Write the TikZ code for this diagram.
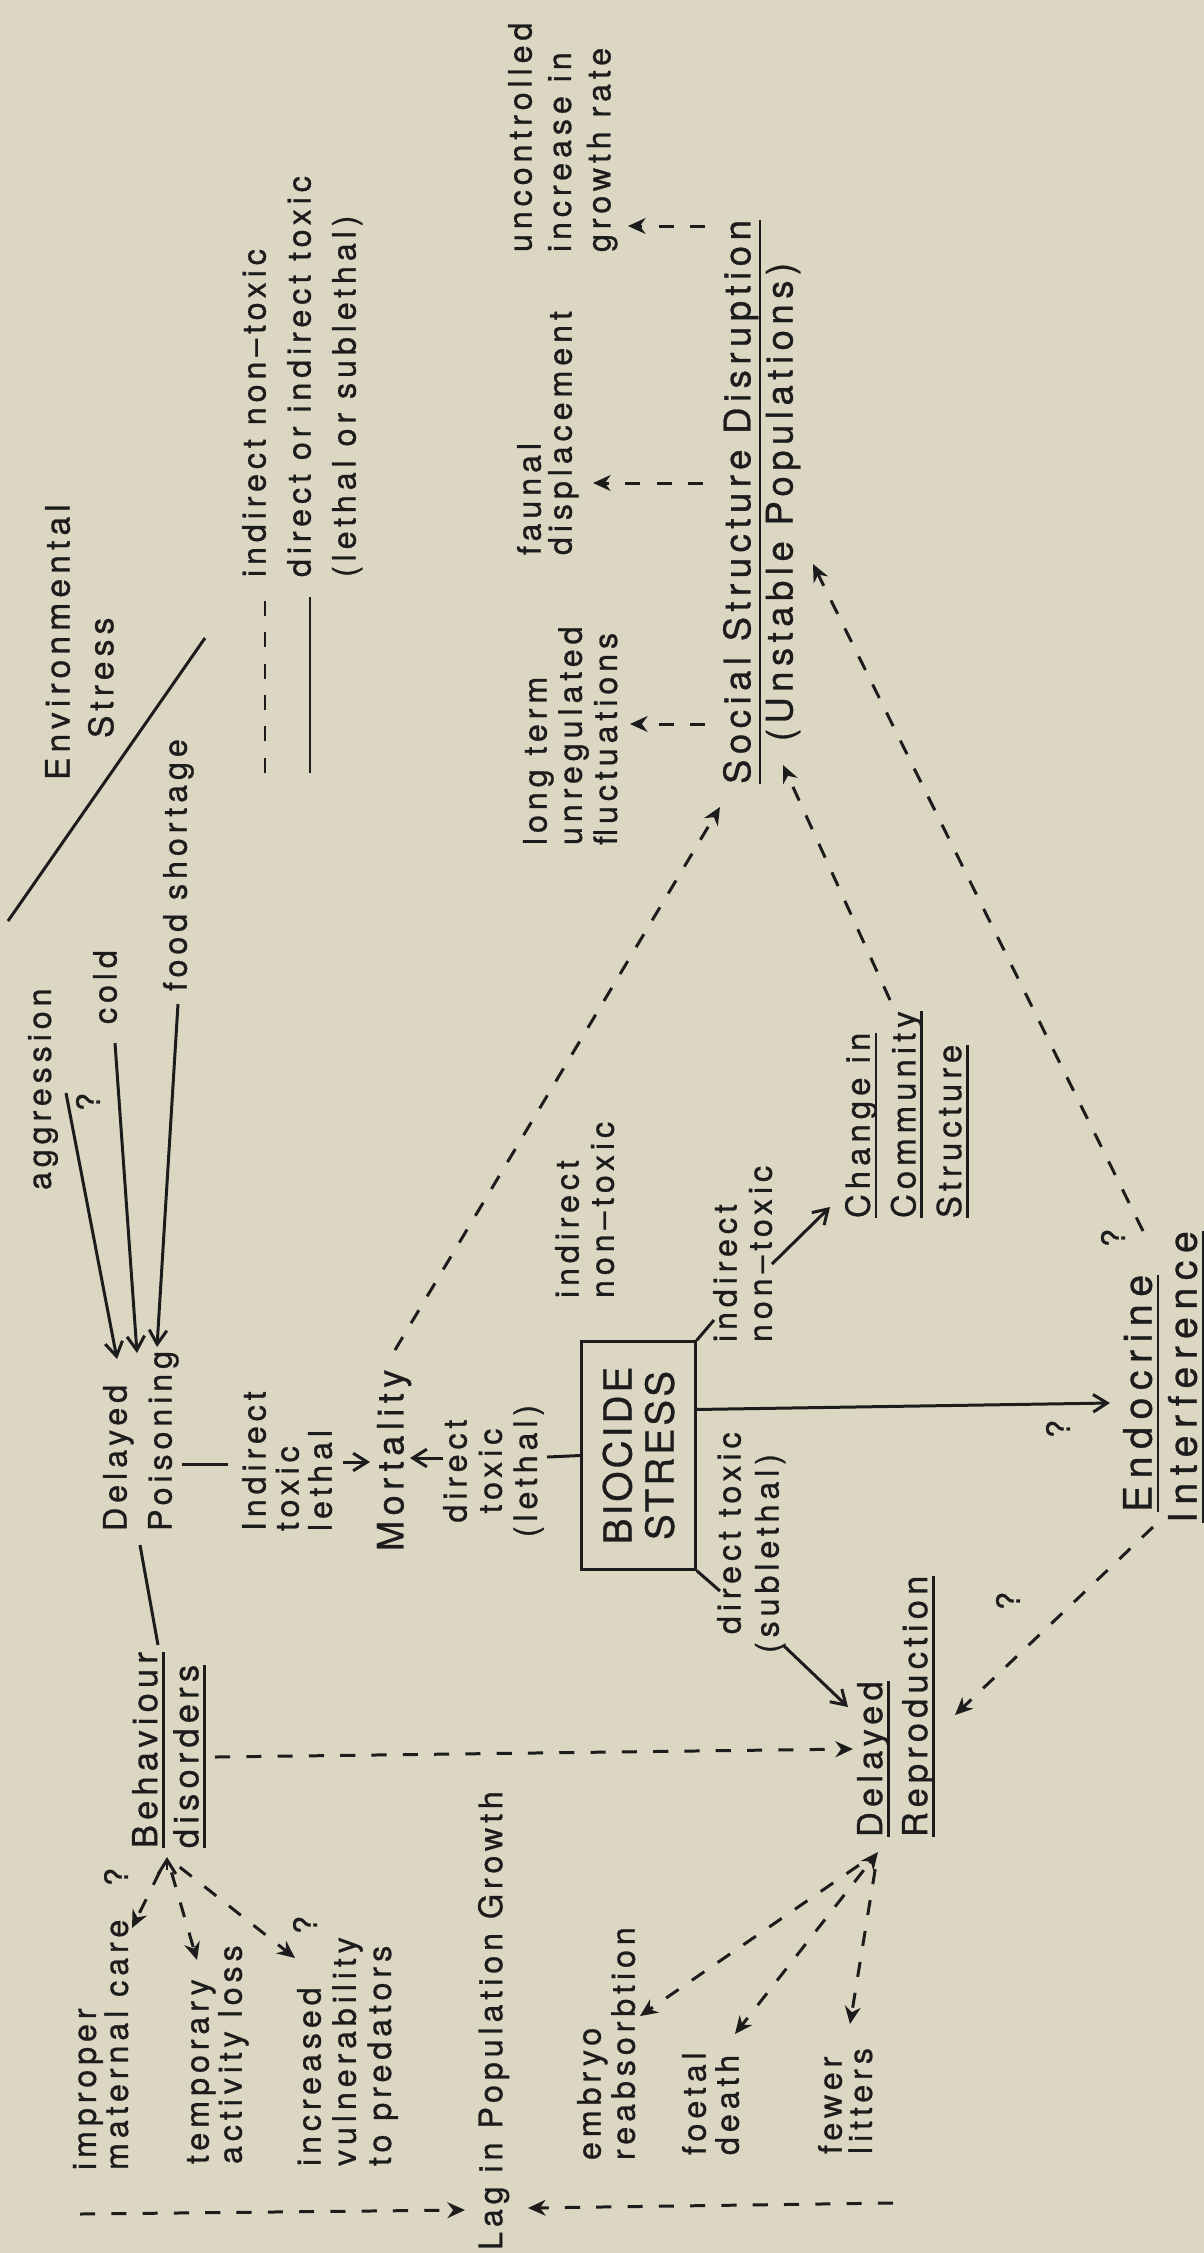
\documentclass[tikz,border=0pt]{standalone}
\usepackage{fontspec}
\newfontfamily\hv{TeX Gyre Heros}[LetterSpace=15,FakeBold=0.8]
\newfontfamily\hvw{TeX Gyre Heros}[LetterSpace=19,FakeBold=0.8]
\newfontfamily\hvn{TeX Gyre Heros}[LetterSpace=8,FakeBold=0.8]
\usetikzlibrary{arrows.meta,calc}
\definecolor{bg}{RGB}{219,215,195}
\definecolor{ink}{RGB}{28,28,28}
\newsavebox\ulbox
\newdimen\uldim
\newcommand\ul[1]{\sbox\ulbox{#1}\uldim=\dp\ulbox\advance\uldim by 0.9pt\ifdim\uldim<2.2pt\uldim=2.2pt\fi\rlap{\rule[-\uldim]{\wd\ulbox}{0.8pt}}\usebox\ulbox}
\begin{document}
\begin{tikzpicture}[x=0.01cm,y=-0.01cm,
  every node/.style={text=ink},
  txt/.style={rotate=90,inner sep=0pt,outer sep=0pt,anchor=north west,align=left},
  sm/.style={txt,font={\hv\fontsize{9.2pt}{#1}\selectfont}}, sm/.default={9.7pt},
  lbl/.style 2 args={txt,font={\hv\fontsize{#1}{#2}\selectfont}},
  qm/.style={rotate=90,inner sep=0pt,font={\hv\fontsize{9.2pt}{10pt}\selectfont}},
  ln/.style={draw=ink,line width=0.85pt},
  arr/.style={ln,-{Straight Barb[length=4pt,width=5pt]}},
  dsh/.style={ln,dash pattern=on 4.3pt off 4.6pt},
  darr/.style={dsh,-{Stealth[length=5pt,width=4.5pt]}},
  boxst/.style={draw=ink,line width=0.85pt,rotate=90,minimum width=64.6pt,minimum height=32.2pt,inner sep=0pt,align=center,font={\hvn\fontsize{11pt}{12pt}\selectfont}}
]
\fill[bg] (0,0) rectangle (1204,2253);
\useasboundingbox (0,0) rectangle (1204,2253);

% ---------------- nodes ----------------
\node[lbl={9.6pt}{11pt}] (env1) at (45,780) {Environmental};
\node[lbl={9.6pt}{11pt}] (env2) at (88,738) {Stress};
\node[sm] (agg) at (28,1190) {aggression};
\node[sm] (cold) at (93,1024) {cold};
\node[sm] (food) at (163,991) {food shortage};
\node[qm] (q1) at (88,1102) {?};
\node[sm={12.8pt}] (leg) at (242,577) {indirect non–toxic\\direct or indirect toxic\\(lethal or sublethal)};
\node[sm={11.2pt}] (unc) at (508,252) {uncontrolled\\increase in\\growth rate};
\node[sm={8.8pt}] (faun) at (517,555) {faunal\\displacement};
\node[sm={10pt}] (lt) at (523,845) {long term\\unregulated\\fluctuations};
\node[lbl={10.4pt}{12pt},anchor=north,align=center] (soc) at (723,502) {\ul{Social Structure Disruption}\\(Unstable Populations)};
\node[sm={12.8pt}] (dp) at (103,1531) {Delayed\\Poisoning};
\node[sm={9.4pt}] (ind) at (242,1531) {Indirect\\toxic\\lethal};
\node[lbl={10.3pt}{11pt}] (mort) at (377,1551) {Mortality};
\node[sm={10pt},anchor=north,align=center] (dtl) at (443,1471) {direct\\toxic\\(lethal)};
\node[boxst] (box) at (638.5,1455.5) {BIOCIDE\\STRESS};
\node[sm={10pt}] (fin) at (555,1298) {indirect\\non–toxic};
\node[sm={10pt}] (ibx) at (713,1342) {indirect\\non–toxic};
\node[sm={10.8pt}] (dts) at (717,1634) {direct toxic\\\hspace*{-0.19cm}(sublethal)};
\node[lbl={9.4pt}{13pt}] (cc) at (845,1218) {\ul{Change in}\\\ul{Community}\\\ul{Structure}};
\node[txt,font={\hvw\fontsize{11.2pt}{12.8pt}\selectfont}] (endo) at (1123,1512) {\ul{Endocrine}\\\hspace*{-0.11cm}\ul{Interference}};
\node[lbl={9.8pt}{12.8pt}] (dr) at (857,1837) {\ul{Delayed}\\\ul{Reproduction}};
\node[lbl={9.8pt}{11.7pt}] (beh) at (132,1848) {\ul{Behaviour}\\\ul{disorders}};
\node[sm={9.1pt}] (imp) at (73,2170) {improper\\maternal care};
\node[sm={9.4pt}] (tmp) at (187,2164) {temporary\\activity loss};
\node[sm={10pt}] (inc) at (297,2166) {increased\\vulnerability\\to predators};
\node[sm] (lag) at (478,2250) {Lag in Population Growth};
\node[sm={8.6pt}] (emb) at (577,2160) {embryo\\reabsorbtion};
\node[sm={9.4pt}] (foe) at (682,2155) {foetal\\death};
\node[sm={8.6pt}] (few) at (818,2154) {fewer\\litters};
\node[qm] (q2) at (1113,1238) {?};
\node[qm] (q3) at (1058,1429) {?};
\node[qm] (q4) at (1008,1601) {?};
\node[qm] (q5) at (116,1877) {?};
\node[qm] (q6) at (305,1925) {?};

% ---------------- connector ends ----------------
\coordinate (aggO) at (66,1093);   \coordinate (dpI1) at (117,1359);
\coordinate (coldO) at (115,1043); \coordinate (dpI2) at (137,1353);
\coordinate (foodO) at (178,1004); \coordinate (dpI3) at (157,1347);
\coordinate (dpO) at (182,1464);   \coordinate (indI) at (228,1464);
\coordinate (dpB) at (140,1545);   \coordinate (behT) at (158,1645);
\coordinate (indO) at (343,1462);  \coordinate (mortL) at (370,1462);
\coordinate (dtlO) at (443,1458);  \coordinate (mortR) at (410,1458);
\coordinate (dtlI) at (547,1457);
\coordinate (ibxI) at (714,1320);
\coordinate (ibxO) at (772,1264);  \coordinate (ccI) at (830,1207);
\coordinate (boxE) at ($(box.south east)!0.3!(box.south west)$);
\coordinate (endoI) at (1110,1403);
\coordinate (dtsI) at (720,1591);
\coordinate (dtsO) at (783,1645);  \coordinate (drI1) at (848,1707);
\coordinate (envA) at (8,921);     \coordinate (envB) at (205,638);
\coordinate (legD1) at (265,601);  \coordinate (legD2) at (265,773);
\coordinate (legS1) at (310,597);  \coordinate (legS2) at (310,773);
\coordinate (mortO) at (395,1350); \coordinate (socI1) at (720,807);
\coordinate (socO1) at (705,724);  \coordinate (ltI) at (630,724);
\coordinate (socO2) at (703,483);  \coordinate (faunI) at (593,483);
\coordinate (socO3) at (705,226);  \coordinate (uncI) at (628,226);
\coordinate (ccO) at (890,1000);   \coordinate (socI2) at (783,765);
\coordinate (endoO1) at (1143,1231); \coordinate (socI3) at (813,564);
\coordinate (endoO2) at (1153,1527); \coordinate (drI2) at (955,1715);
\coordinate (behO) at (215,1757);  \coordinate (drI3) at (853,1749);
\coordinate (behS) at (167,1857);  \coordinate (behS0) at (167,1870);
\coordinate (impI) at (132,1928);  \coordinate (tmpI) at (197,1960); \coordinate (incI) at (295,1958);
\coordinate (drS) at (878,1852);
\coordinate (embI) at (640,2016);  \coordinate (foeI) at (735,2034); \coordinate (fewI) at (850,2024);
\coordinate (lagL) at (80,2214);   \coordinate (lagI1) at (465,2210);
\coordinate (lagR) at (893,2203);  \coordinate (lagI2) at (528,2208);

% ---------------- solid connectors ----------------
\draw[ln] (envA) -- (envB);
\draw[ln] (legS1) -- (legS2);
\draw[arr] (aggO) -- (dpI1);
\draw[arr] (coldO) -- (dpI2);
\draw[arr] (foodO) -- (dpI3);
\draw[ln] (dpO) -- (indI);
\draw[ln] (dpB) -- (behT);
\draw[arr] (indO) -- (mortL);
\draw[arr] (dtlO) -- (mortR);
\draw[ln] (box.north) -- (dtlI);
\draw[ln] (box.south east) -- (ibxI);
\draw[arr] (ibxO) -- (ccI);
\draw[arr] (boxE) -- (endoI);
\draw[ln] (box.south west) -- (dtsI);
\draw[arr] (dtsO) -- (drI1);

% ---------------- dashed connectors ----------------
\draw[dsh] (legD1) -- (legD2);
\draw[darr] (mortO) -- (socI1);
\draw[darr] (socO1) -- (ltI);
\draw[darr] (socO2) -- (faunI);
\draw[darr] (socO3) -- (uncI);
\draw[darr] (ccO) -- (socI2);
\draw[darr] (endoO1) -- (socI3);
\draw[darr] (endoO2) -- (drI2);
\draw[darr] (behO) -- (drI3);
\draw[ln,-{Straight Barb[length=4pt,width=5pt]}] (behS0) -- (behS);
\draw[darr] ($(behS)!0.2!(impI)$) -- (impI);
\draw[darr] ($(behS)!0.15!(tmpI)$) -- (tmpI);
\draw[darr] ($(behS)!0.1!(incI)$) -- (incI);
\draw[ln,-{Stealth[length=5pt,width=4.5pt]}] ($(drS)!0.06!(foeI)$) -- (drS);
\draw[darr] ($(drS)!0.08!(embI)$) -- (embI);
\draw[darr] ($(drS)!0.1!(foeI)$) -- (foeI);
\draw[darr] ($(drS)!0.1!(fewI)$) -- (fewI);
\draw[darr] (lagL) -- (lagI1);
\draw[darr] (lagR) -- (lagI2);
\end{tikzpicture}
\end{document}
